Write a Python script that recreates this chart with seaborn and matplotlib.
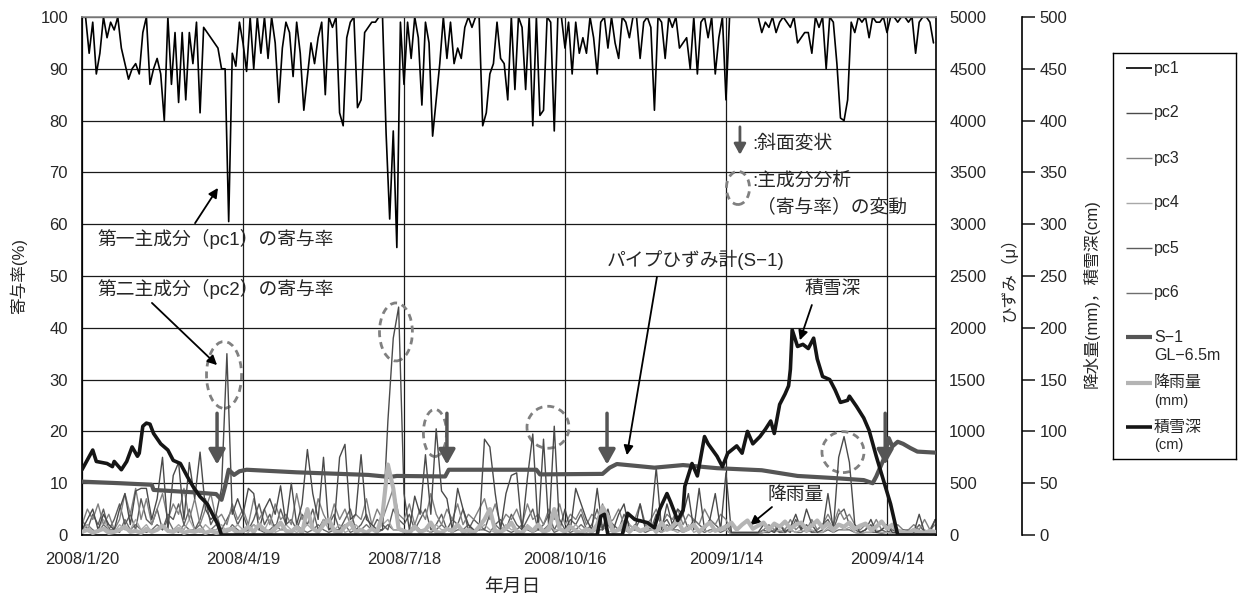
import pandas as pd
import seaborn as sns
import matplotlib.pyplot as plt
import matplotlib.dates as mdates
from matplotlib.patches import Ellipse

sns.set_style("white")
plt.rcParams['font.family'] = ['Liberation Sans', 'Noto Sans CJK JP', 'DejaVu Sans']

# ---- data ----
start = pd.Timestamp('2008-01-20')
dates2 = pd.date_range(start, periods=239, freq='2D')   # pc1: one value every 2 days
dates3 = pd.date_range(start, periods=160, freq='3D')   # other series: every 3 days

pc1 = [100, 100, 93, 99, 89, 93, 100, 96, 99, 97.5,
       100, 94, 91, 88, 90, 91, 89, 97, 100, 87,
       90, 92, 89, 80, 100, 87, 97, 83.5, 97, 84,
       97, 91, 99, 81.5, 98, 97, 96, 95, 94, 90,
       90, 60.5, 93, 90.5, 99, 95, 89.5, 100, 90, 100,
       93, 100, 92, 100, 95, 83.5, 94, 99, 97, 88.5,
       99, 93, 82, 88.5, 95, 91, 96, 99, 85, 100,
       98, 100, 81.5, 79, 96, 99, 100, 82.5, 84, 97,
       98, 99, 99, 100, 100, 77.5, 61, 78, 55.5, 99,
       87, 99, 92, 100, 96, 83, 99, 95, 77, 84,
       91, 100, 92, 99, 91, 94, 92, 98, 100, 98,
       100, 100, 79, 81.5, 89, 91, 99, 92, 91, 84,
       100, 86, 100, 98, 86, 100, 79, 100, 81, 82,
       100, 99, 78, 100, 100, 94, 99, 89, 99, 93,
       96, 93, 100, 96, 89, 99, 100, 94, 100, 95,
       92, 100, 99, 96, 100, 100, 92, 99, 100, 98,
       82, 100, 99, 92, 100, 98, 100, 94, 95, 96,
       90, 100, 89, 99, 100, 96, 100, 89, 96, 100,
       84, 100, 100, 100, 100, 100, 100, 100, 100, 100,
       97, 99, 98, 100, 97, 99, 100, 99, 98, 100,
       95, 96, 97, 97, 93, 100, 98, 100, 90, 100,
       99, 91, 80.5, 80, 84, 99, 97, 100, 99, 100,
       96, 100, 99, 99, 100, 97, 100, 100, 99, 100,
       100, 99, 100, 93, 99, 100, 100, 99, 95]

pc2 = [1, 3, 5, 1, 4, 2, 1, 5, 8, 2,
       8.5, 9, 9, 3, 7, 15, 1, 11.5, 14, 3,
       14, 7, 16, 5, 3, 4, 9, 35, 4, 7,
       4, 9, 8, 1, 5, 7, 4, 9.5, 2, 10,
       2, 6, 16.5, 8, 3, 15, 1, 2, 15, 17.5,
       3, 4, 15.5, 3, 2, 1, 1, 22, 38, 44,
       8, 1, 7.5, 4, 15.5, 4, 20.5, 8.5, 7, 1,
       9, 5, 2, 1, 1, 18.5, 17, 8, 1, 8,
       11.5, 12, 1, 11, 19.5, 1, 18.5, 1, 21, 1,
       5, 1, 9, 6, 3, 1, 9, 1, 5, 1,
       4, 6, 1, 1, 6, 1, 2, 13, 1, 6,
       2, 5, 4, 8, 1, 9, 1, 3, 8, 1,
       12, 0.5, 0.5, 0.5, 0.5, 0.5, 0.5, 2, 1, 0.5,
       2, 0.5, 1.5, 4, 1, 5, 2, 0.5, 1, 8,
       1, 15, 19, 14, 2, 0.5, 1, 3, 0.5, 1,
       2, 0.5, 0.5, 1, 0.5, 0.5, 4, 0.5, 0.5, 3]

pc3 = [2, 5, 3, 6, 2, 4, 1, 3, 8, 4,
       9, 3, 7, 2, 5, 8, 3, 6, 4, 9,
       3, 7, 2, 5, 8, 3, 4, 2, 6, 3,
       5, 2, 7, 3, 5, 2, 6, 3, 4, 2,
       8, 3, 5, 2, 7, 4, 2, 6, 3, 5,
       2, 4, 3, 7, 2, 5, 3, 6, 9, 4,
       3, 6, 2, 5, 3, 8, 4, 2, 5, 3,
       6, 2, 4, 3, 5, 7, 3, 6, 2, 4,
       3, 5, 2, 6, 3, 4, 2, 5, 3, 6,
       2, 4, 3, 5, 2, 4, 3, 6, 2, 3,
       5, 2, 4, 3, 6, 2, 3, 5, 2, 4,
       3, 5, 2, 4, 3, 2, 5, 3, 2, 4,
       3, 0.5, 0.5, 0.5, 0.5, 0.5, 0.5, 1, 2, 1,
       2, 1, 3, 1, 2, 1, 3, 1, 2, 4,
       2, 5, 3, 4, 2, 1, 2, 1, 3, 1,
       2, 1, 2, 1, 1, 2, 1, 3, 1, 2]

pc4 = [1, 2, 0.5, 1, 3, 1, 0.5, 2, 1, 1, 3, 1, 2, 0.5, 1, 2, 0.5, 1, 2, 1,
       3, 1, 0.5, 2, 1, 1, 2, 0.5, 1, 2, 1, 0.5, 2, 1, 1, 3, 0.5, 1, 2, 1,
       0.5, 1, 2, 1, 0.5, 3, 1, 1, 2, 0.5, 1, 2, 1, 0.5, 1, 1, 2, 3, 1, 1,
       0.5, 1, 2, 1, 1, 0.5, 2, 1, 1, 0.5, 2, 1, 0.5, 1, 1, 2, 1, 0.5, 1, 2,
       1, 1, 0.5, 2, 1, 1, 0.5, 2, 1, 1, 0.5, 1, 2, 1, 0.5, 1, 1, 2, 0.5, 1,
       1, 0.5, 2, 1, 0.5, 1, 1, 2, 0.5, 1, 1, 0.5, 1, 2, 0.5, 1, 1, 0.5, 1, 1,
       1, 0.2, 0.2, 0.2, 0.2, 0.2, 0.2, 0.5, 1, 0.5, 1, 0.5, 1, 0.5, 1, 0.5, 1, 0.5, 0.5, 1.5,
       0.5, 2, 1, 1.5, 0.5, 0.3, 0.5, 0.5, 1, 0.5, 0.5, 0.3, 0.5, 0.3, 0.3, 0.5, 0.5, 1, 0.5, 0.5]

pc5 = [3, 1, 4, 2, 5, 1, 3, 6, 2, 4, 1, 7, 3, 2, 5, 1, 4, 3, 6, 2,
       5, 1, 3, 7, 2, 4, 1, 3, 5, 2, 4, 1, 3, 6, 2, 4, 1, 5, 2, 3,
       1, 4, 2, 5, 1, 3, 2, 4, 1, 3, 5, 1, 2, 4, 1, 3, 2, 1, 5, 3,
       2, 4, 1, 3, 5, 1, 2, 4, 1, 3, 2, 5, 1, 3, 2, 1, 4, 2, 3, 1,
       4, 2, 1, 3, 5, 1, 2, 4, 1, 3, 1, 3, 2, 4, 1, 2, 5, 1, 3, 2,
       1, 4, 2, 1, 3, 2, 1, 4, 2, 3, 1, 2, 4, 1, 3, 2, 1, 3, 2, 1,
       2, 0.3, 0.3, 0.3, 0.3, 0.3, 0.3, 1, 0.5, 2, 0.5, 1, 0.5, 3, 1, 2, 0.5, 1, 2, 3,
       1, 4, 5, 2, 1, 0.5, 1, 2, 0.5, 1, 0.5, 1, 0.5, 0.5, 1, 0.5, 2, 0.5, 1, 3]

pc6 = [1, 2, 1, 0.5, 2, 1, 1, 0.5, 3, 1, 2, 1, 0.5, 1, 2, 1, 3, 1, 0.5, 2,
       1, 1, 2, 0.5, 1, 2, 1, 0.5, 2, 1, 0.5, 1, 2, 1, 0.5, 1, 2, 1, 1, 0.5,
       2, 1, 0.5, 1, 2, 1, 0.5, 1, 1, 2, 0.5, 1, 1, 2, 1, 0.5, 1, 2, 1, 1,
       1, 0.5, 2, 1, 1, 0.5, 1, 2, 1, 0.5, 1, 1, 2, 0.5, 1, 1, 0.5, 2, 1, 1,
       0.5, 1, 2, 1, 0.5, 1, 1, 2, 0.5, 1, 1, 0.5, 1, 2, 1, 0.5, 1, 1, 2, 0.5,
       1, 1, 0.5, 2, 1, 0.5, 1, 1, 0.5, 2, 1, 1, 0.5, 1, 2, 1, 0.5, 1, 1, 0.5,
       1, 0.2, 0.2, 0.2, 0.2, 0.2, 0.2, 0.5, 0.5, 1, 0.5, 0.5, 1, 0.5, 0.5, 1, 0.5, 0.5, 0.5, 1,
       0.5, 1, 1, 1, 0.5, 0.3, 0.5, 0.5, 0.5, 0.3, 0.5, 0.3, 0.5, 0.3, 0.3, 0.5, 0.3, 0.5, 0.5, 0.5]

rain_mm = [3, 5, 2, 4, 6, 2, 3, 5, 8, 3, 4, 2, 6, 3, 5, 9, 4, 3, 6, 2,
           4, 3, 5, 2, 4, 2, 3, 5, 6, 2, 4, 8, 3, 10, 5, 2, 6, 12, 4, 3,
           8, 2, 25, 6, 3, 10, 15, 4, 2, 8, 12, 3, 5, 2, 6, 3, 20, 68, 45, 6,
           4, 2, 8, 3, 5, 12, 3, 2, 6, 4, 10, 3, 5, 2, 8, 15, 25, 4, 3, 6,
           12, 3, 2, 8, 4, 10, 3, 5, 25, 6, 3, 8, 4, 2, 6, 3, 10, 27, 18, 3,
           5, 12, 3, 8, 4, 6, 10, 3, 12, 5, 8, 14, 4, 6, 10, 3, 8, 12, 4, 6,
           8, 12, 5, 10, 14, 6, 9, 12, 5, 11, 8, 13, 6, 10, 12, 5, 9, 14, 7, 11,
           5, 10, 8, 12, 6, 9, 11, 5, 8, 13, 6, 10, 4, 3, 2, 5, 3, 2, 4, 3]

# pipe strain gauge S-1 (GL-6.5m), days after 2008/1/20
s1_day = [0, 21, 39, 40, 64, 75, 78, 80, 82, 85, 88, 92, 120, 160, 172, 176, 203, 205, 254, 256,
          291, 295, 299, 320, 336, 355, 380, 400, 420, 437, 442, 444, 448, 451, 453, 456, 459, 463, 467, 477]
s1_strain = [515, 500, 485, 435, 410, 395, 340, 470, 630, 580, 615, 630, 605, 580, 560, 570, 565, 630, 630, 585,
             590, 650, 685, 650, 675, 645, 625, 570, 550, 530, 500, 565, 725, 935, 855, 900, 880, 840, 805, 795]

# snow depth, days after 2008/1/20
snow_day = [0, 6, 8, 14, 17, 18, 22, 25, 28, 31, 32, 34, 36, 38, 40, 44, 48, 51, 55, 59,
            62, 66, 70, 73, 76, 78, 284, 288, 290, 292, 294, 302, 305, 309, 316, 320, 323, 327, 329, 333,
            336, 337, 341, 344, 348, 350, 355, 358, 361, 366, 369, 372, 375, 379, 382, 385, 387, 390, 393, 395,
            396, 397, 400, 403, 406, 409, 411, 414, 418, 421, 424, 428, 429, 433, 437, 440, 444, 448, 452, 456, 477]
snow_cm = [63, 82, 71, 69, 66, 71, 63, 71, 85, 76, 79, 105, 108, 107, 98, 88, 82, 72, 69, 56,
           47, 37, 30, 20, 10, 0, 0, 0, 18, 20, 0, 0, 21, 15, 12, 7, 25, 40, 32, 14,
           24, 47, 69, 57, 95, 88, 76, 66, 79, 86, 79, 100, 88, 95, 102, 110, 98, 126, 136, 144,
           160, 198, 182, 184, 180, 190, 170, 153, 150, 140, 128, 130, 134, 124, 113, 101, 76, 53, 30, 0, 0]

tick_labels = ['2008/1/20', '2008/4/19', '2008/7/18', '2008/10/16', '2009/1/14', '2009/4/14']
event_days = [75.5, 204, 293.5, 449]          # slope deformation (arrows)
pca_marks = [(79.4, 30.9, 19.6, 12.9), (175.5, 39.2, 18.4, 11.2), (197.3, 19.7, 12.9, 9.1),
             (260.5, 20.8, 23.5, 8.1), (425.4, 16.0, 23.5, 7.9)]   # day, value, width(days), height


def dn(d):
    return mdates.date2num(start + pd.Timedelta(days=d))


s1_dates = start + pd.to_timedelta(s1_day, unit='D')
snow_dates = start + pd.to_timedelta(snow_day, unit='D')

fig = plt.figure(figsize=(12.41, 6.01), dpi=100)
ax = fig.add_axes([82 / 1241, 1 - 535 / 601, 854 / 1241, 518 / 601])
ax2 = ax.twinx()
ax3 = ax.twinx()

pc_styles = [('pc1', dates2, pc1, '#000000', 1.2), ('pc2', dates3, pc2, '#4a4a4a', 1.0),
             ('pc3', dates3, pc3, '#808080', 1.0), ('pc4', dates3, pc4, '#a8a8a8', 1.0),
             ('pc5', dates3, pc5, '#5c5c5c', 1.0), ('pc6', dates3, pc6, '#6e6e6e', 1.0)]
for name, xs, vals, col, lw in reversed(pc_styles):
    sns.lineplot(x=xs, y=vals, ax=ax, color=col, lw=lw, label=name, legend=False)

sns.lineplot(x=s1_dates, y=s1_strain, ax=ax2, color='#555555', lw=3, label='S−1\nGL−6.5m', legend=False)
sns.lineplot(x=dates3, y=rain_mm, ax=ax3, color='#b4b4b4', lw=3, label='降雨量\n(mm)', legend=False)
sns.lineplot(x=snow_dates, y=snow_cm, ax=ax3, color='#151515', lw=2.6, label='積雪深\n(cm)', legend=False)

# axes ranges / ticks
ax.set_xlim(dn(0), dn(477.4))
ax.set_ylim(0, 100)
ax.set_yticks(range(0, 101, 10))
ax.set_xticks(mdates.date2num(pd.to_datetime(tick_labels, format='%Y/%m/%d')))
ax.set_xticklabels(tick_labels)
ax.grid(True, color='#1a1a1a', lw=0.9)
ax.set_axisbelow(True)
ax.tick_params(axis='both', length=0, labelsize=12)
ax.tick_params(axis='x', pad=12)
ax.tick_params(axis='y', pad=10)
for s in ['left', 'bottom', 'right']:
    ax.spines[s].set_color('black')
    ax.spines[s].set_linewidth(1.2)
ax.spines['top'].set_color('#888888')
ax.spines['top'].set_linewidth(1.2)

ax2.set_ylim(0, 5000)
ax2.set_yticks(range(0, 5001, 500))
ax2.tick_params(axis='y', length=0, pad=9.5, labelsize=12)
for s in ax2.spines.values():
    s.set_visible(False)

ax3.set_ylim(0, 500)
ax3.set_yticks(range(0, 501, 50))
ax3.spines['right'].set_position(('axes', 1 + 86 / 854))
for s in ['top', 'left', 'bottom']:
    ax3.spines[s].set_visible(False)
ax3.spines['right'].set_color('black')
ax3.spines['right'].set_linewidth(1.2)
ax3.tick_params(axis='y', direction='out', length=9, width=1.2, pad=3.5, labelsize=12)

ax.set_xlabel('年月日', fontsize=13.5)
ax.xaxis.set_label_coords(0.5035, -0.085)
ax.set_ylabel('寄与率(%)', fontsize=12)
ax.yaxis.set_label_coords(-0.0644, 0.5)
ax2.set_ylabel('ひずみ（μ）', fontsize=12)
ax2.yaxis.set_label_coords(1.0749, 0.5)
ax3.set_ylabel('降水量(mm)，積雪深(cm)', fontsize=12)
ax3.yaxis.set_label_coords(1.1721, 0.467)

# annotations
txt = dict(fontsize=13.5, va='center', ha='left')
blk = dict(arrowstyle='-|>', color='black', lw=1.3, mutation_scale=14, shrinkA=0, shrinkB=0)
ax.text(dn(8.4), 57.1, '第一主成分（pc1）の寄与率', **txt)
ax.annotate('', xy=(dn(76), 67), xytext=(dn(63.2), 60.2), arrowprops=blk)
ax.text(dn(8.4), 47.5, '第二主成分（pc2）の寄与率', **txt)
ax.annotate('', xy=(dn(75.5), 32.8), xytext=(dn(39.1), 44.8), arrowprops=blk)
ax.text(dn(293.5), 53.2, 'パイプひずみ計(S−1)', **txt)
ax.annotate('', xy=(dn(304.6), 15.4), xytext=(dn(321.4), 49.8), arrowprops=blk)
ax.text(dn(404), 47.5, '積雪深', **txt)
ax.annotate('', xy=(dn(401.3), 37.6), xytext=(dn(408), 44.4), arrowprops=blk)
ax.text(dn(383), 7.7, '降雨量', **txt)
ax.annotate('', xy=(dn(373.4), 1.9), xytext=(dn(385.7), 5.4), arrowprops=blk)

ev = dict(arrowstyle='-|>,head_length=0.45,head_width=0.25', color='#555555', lw=2.5,
          mutation_scale=20, shrinkA=0, shrinkB=0)
for d in event_days:
    ax.annotate('', xy=(dn(d), 13.6), xytext=(dn(d), 23.5), arrowprops=ev)
for d, v, w, h in pca_marks:
    ax.add_patch(Ellipse((dn(d), v), w, h, fill=False, ec='#808080', lw=2, ls=(0, (2.5, 1.8))))

# in-plot key
ax.annotate('', xy=(dn(367.8), 73.4), xytext=(dn(367.8), 78.8),
            arrowprops=dict(arrowstyle='-|>,head_length=0.4,head_width=0.22', color='#555555', lw=2,
                            mutation_scale=16, shrinkA=0, shrinkB=0))
ax.text(dn(374.5), 75.5, ':斜面変状', **txt)
ax.add_patch(Ellipse((dn(366.7), 67), 12.9, 6.4, fill=False, ec='#808080', lw=2, ls=(0, (2.5, 1.8))))
ax.text(dn(374.5), 68.3, ':主成分分析', **txt)
ax.text(dn(377.5), 63.3, '（寄与率）の変動', **txt)

# legend box (keys aligned with the first line of each label, as in the original)
lines = {}
for a in (ax, ax2, ax3):
    for ln in a.get_lines():
        lines[ln.get_label()] = ln
lax = fig.add_axes([1113 / 1241, 1 - 459 / 601, 123 / 1241, 406 / 601])
lax.set_xlim(0, 123)
lax.set_ylim(406, 0)
lax.set_xticks([])
lax.set_yticks([])
for s in lax.spines.values():
    s.set_color('black')
    s.set_linewidth(1.0)
key_order = ['pc1', 'pc2', 'pc3', 'pc4', 'pc5', 'pc6', 'S−1\nGL−6.5m', '降雨量\n(mm)', '積雪深\n(cm)']
key_y = [15, 60, 105, 150, 195, 240, 284, 330, 374]
for name, y in zip(key_order, key_y):
    ln = lines[name]
    lax.plot([13, 39], [y, y], color=ln.get_color(), lw=ln.get_linewidth(), solid_capstyle='butt')
    parts = name.split('\n')
    lax.text(41, y, parts[0], fontsize=11.5, va='center', ha='left')
    if len(parts) > 1:
        lax.text(41, y + 18, parts[1], fontsize=11.5 if parts[1].startswith('GL') else 10.5,
                 va='center', ha='left')

fig.savefig('out.png', dpi=100)
